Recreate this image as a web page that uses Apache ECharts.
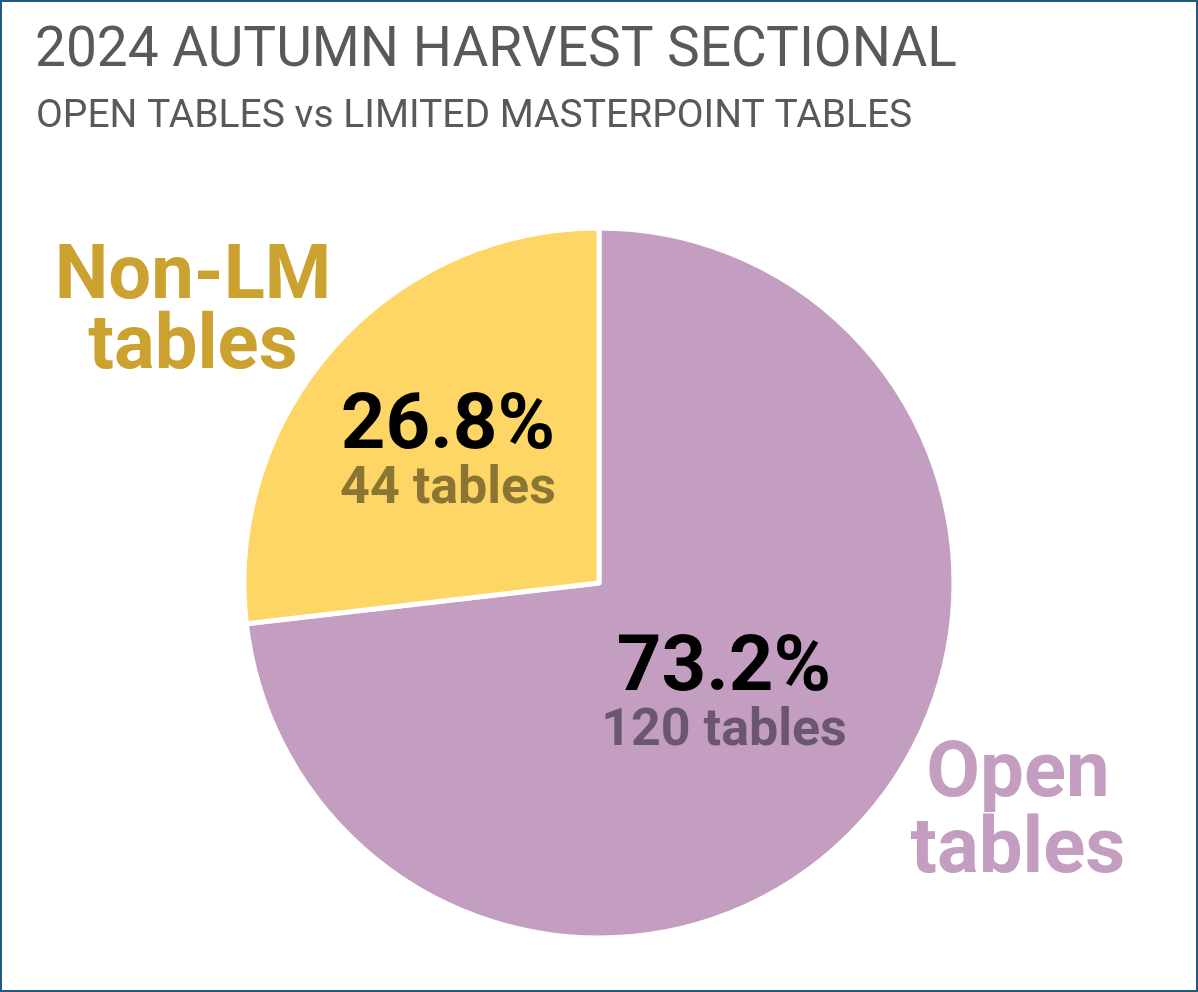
<!DOCTYPE html>
<html><head><meta charset="utf-8">
<script src="https://cdn.jsdelivr.net/npm/echarts@6/dist/echarts.min.js"></script>
<style>
html,body{margin:0;padding:0;background:#fff;}
#c{width:1198px;height:992px;box-sizing:border-box;border:2px solid #1d5c7d;}
</style></head>
<body><div id="c"></div>
<script>
const categories = ['Open tables', 'Non-LM tables'];
const tableCounts = [120, 44];
const percents = ['73.2%', '26.8%'];
const sliceColors = ['#c49ec0', '#fdd665'];
const nameColors = ['#c49ec0', '#cba22f'];
const countColors = ['#6b5670', '#8b7535'];
const titleText = '2024 AUTUMN HARVEST SECTIONAL';
const subtitleText = 'OPEN TABLES vs LIMITED MASTERPOINT TABLES';

const innerPos = [[722, 694], [446, 452]];
const outerPos = [[1016, 812], [191, 312]];

const chart = echarts.init(document.getElementById('c'));
const data = categories.map((c, i) => ({
  name: c, value: tableCounts[i],
  itemStyle: { color: sliceColors[i] }
}));

chart.setOption({
  animation: false,
  title: [
    { text: titleText, left: 28, top: 18, textStyle: { fontFamily: 'Roboto', fontWeight: 'normal', fontSize: 55, color: '#595959' } },
    { text: subtitleText, left: 29, top: 91, textStyle: { fontFamily: 'Roboto', fontWeight: 'normal', fontSize: 39, color: '#595959' } }
  ],
  series: [
    {
      type: 'pie', center: [597, 581], radius: 355, startAngle: 90, clockwise: true,
      data: data,
      itemStyle: { borderColor: '#fff', borderWidth: 5 },
      label: {
        show: true, position: 'inside', overflow: 'none',
        formatter: p => '{p|' + percents[p.dataIndex] + '}\n{n' + p.dataIndex + '|' + tableCounts[p.dataIndex] + ' tables}',
        rich: {
          p: { fontFamily: 'Roboto', fontWeight: 'bold', fontSize: 78, color: '#000', lineHeight: 72 },
          n0: { fontFamily: 'Roboto', fontWeight: 'bold', fontSize: 52, color: countColors[0], lineHeight: 52 },
          n1: { fontFamily: 'Roboto', fontWeight: 'bold', fontSize: 52, color: countColors[1], lineHeight: 52 }
        }
      },
      labelLine: { show: false },
      labelLayout: p => ({ x: innerPos[p.dataIndex][0], y: innerPos[p.dataIndex][1], align: 'center', verticalAlign: 'middle' }),
      silent: true
    },
    {
      type: 'pie', center: [597, 581], radius: 355, startAngle: 90, clockwise: true,
      data: categories.map((c, i) => ({ name: c, value: tableCounts[i], itemStyle: { color: 'rgba(0,0,0,0)' } })),
      label: {
        show: true, position: 'outside', overflow: 'none', width: 400,
        formatter: p => '{c' + p.dataIndex + '|' + p.name.replace(' ', '\n') + '}',
        rich: {
          c0: { fontFamily: 'Roboto', fontWeight: 'bold', fontSize: 78, color: nameColors[0], lineHeight: 76, align: 'center' },
          c1: { fontFamily: 'Roboto', fontWeight: 'bold', fontSize: 76, color: nameColors[1], lineHeight: 70, align: 'center' }
        }
      },
      labelLine: { show: false },
      labelLayout: p => ({ x: outerPos[p.dataIndex][0], y: outerPos[p.dataIndex][1], align: 'center', verticalAlign: 'middle' }),
      silent: true
    }
  ]
});
</script></body></html>
